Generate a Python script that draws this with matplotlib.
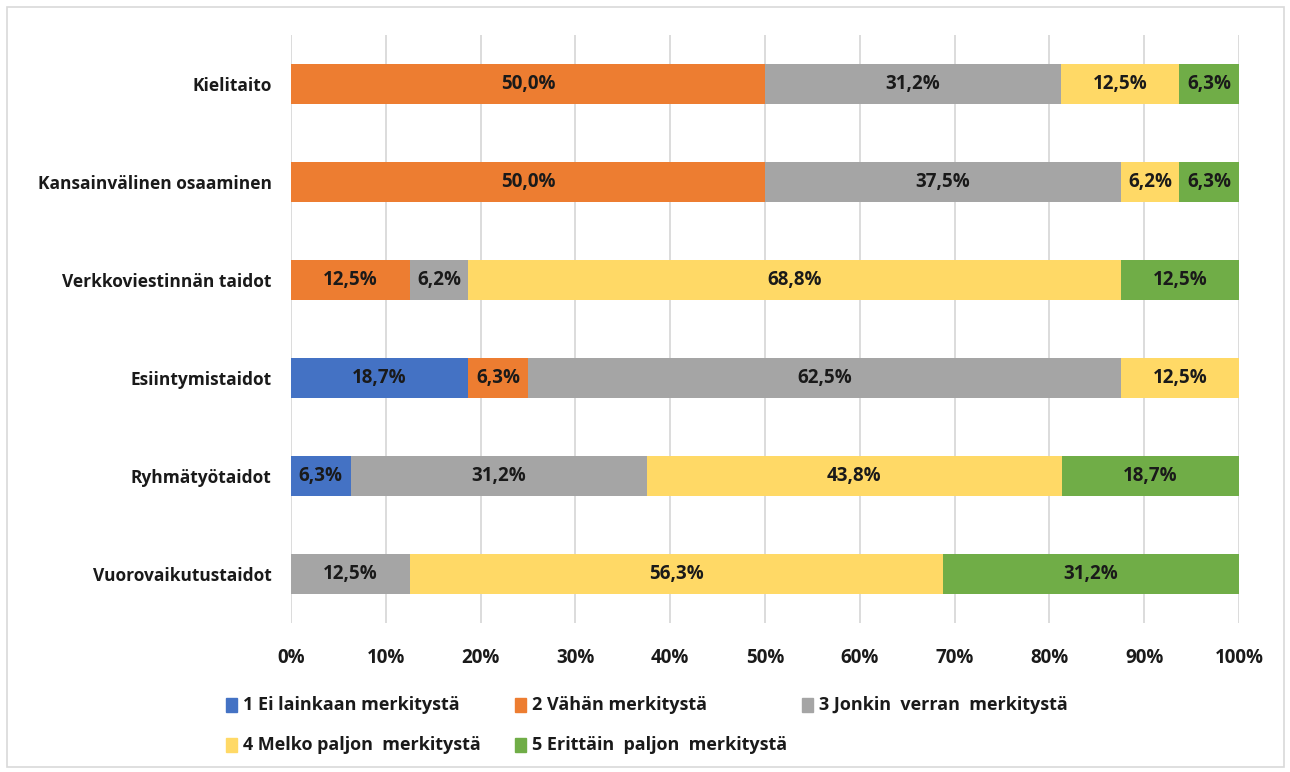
import matplotlib.pyplot as plt
from matplotlib.patches import Rectangle

plt.rcParams['font.family'] = ['Open Sans', 'DejaVu Sans']
plt.rcParams['font.weight'] = 'bold'

categories = ['Kielitaito', 'Kansainvälinen osaaminen', 'Verkkoviestinnän taidot',
              'Esiintymistaidot', 'Ryhmätyötaidot', 'Vuorovaikutustaidot']
series_names = ['1 Ei lainkaan merkitystä', '2 Vähän merkitystä',
                '3 Jonkin  verran  merkitystä', '4 Melko paljon  merkitystä',
                '5 Erittäin  paljon  merkitystä']
s1 = [0, 0, 0, 18.7, 6.3, 0]
s2 = [50.0, 50.0, 12.5, 6.3, 0, 0]
s3 = [31.2, 37.5, 6.2, 62.5, 31.2, 12.5]
s4 = [12.5, 6.2, 68.8, 12.5, 43.8, 56.3]
s5 = [6.3, 6.3, 12.5, 0, 18.7, 31.2]
colors = ['#4472C4', '#ED7D31', '#A5A5A5', '#FFD966', '#70AD47']

fig = plt.figure(figsize=(12.9, 7.72), dpi=100)
ax = fig.add_axes([291/1290, 1-623/772, (1239-291)/1290, (623-35)/772])

ypos = list(range(len(categories)))[::-1]
left = [0]*len(categories)
for vals, col in zip([s1, s2, s3, s4, s5], colors):
    ax.barh(ypos, vals, left=left, color=col, height=0.4, zorder=2)
    for y, v, l in zip(ypos, vals, left):
        if v > 0:
            ax.text(l + v/2, y, f'{v:.1f}%'.replace('.', ','), ha='center', va='center',
                    fontsize=13.5, fontweight='bold', color='#1a1a1a', zorder=3)
    left = [a + b for a, b in zip(left, vals)]

ax.set_xlim(0, 100)
ax.set_ylim(-0.5, 5.5)
ax.set_xticks(range(0, 101, 10))
ax.set_xticklabels([f'{t}%' for t in range(0, 101, 10)])
ax.set_yticks(ypos)
ax.set_yticklabels(categories)
ax.tick_params(length=0, colors='#1a1a1a')
ax.tick_params(axis='y', pad=14, labelsize=12.5)
ax.tick_params(axis='x', pad=18, labelsize=13.5)
for lab in ax.get_xticklabels() + ax.get_yticklabels():
    lab.set_fontweight('bold')
for s in ax.spines.values():
    s.set_visible(False)
ax.grid(axis='x', color='#D9D9D9', linewidth=1.3, zorder=0)

# legend laid out like the original (two rows)
leg_pos = [(226, 705), (515, 705), (802, 705), (226, 745), (515, 745)]
for (x, y), name, col in zip(leg_pos, series_names, colors):
    fig.patches.append(Rectangle((x/1290, 1-(y+7)/772), 11/1290, 14/772,
                                 transform=fig.transFigure, color=col))
    fig.text((x+17)/1290, 1-y/772, name, ha='left', va='center',
             fontsize=13, fontweight='bold', color='#1a1a1a')

fig.patches.append(Rectangle((7/1290, 5/772), 1277/1290, 760/772, transform=fig.transFigure,
                             fill=False, edgecolor='#D9D9D9', linewidth=1.2))

fig.savefig('out.png', dpi=100)
